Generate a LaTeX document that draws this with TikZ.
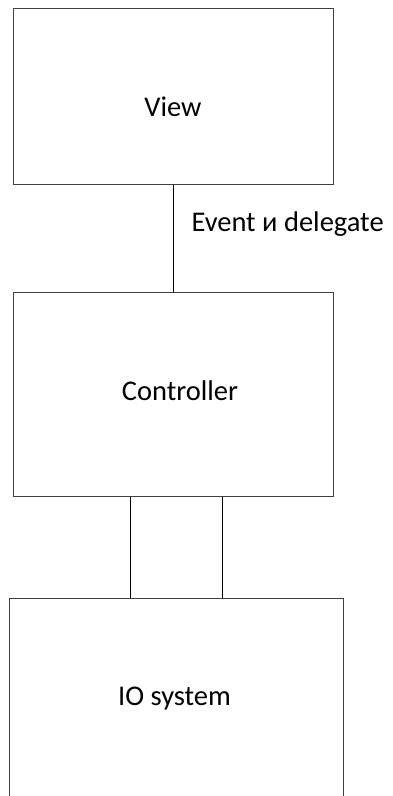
\documentclass[tikz,border=0pt]{standalone}
\usepackage{fontspec}
\setmainfont{Carlito}

\tikzset{every node/.style={font=\fontsize{28.5}{34}\selectfont}}
\tikzset{box/.style={rectangle, draw=black!75, line width=1pt, minimum width=320pt, inner sep=0pt}}
\tikzset{txt/.style={inner sep=0pt, text height=18.4pt, text depth=0pt}}

\begin{document}
\begin{tikzpicture}[x=1pt, y=-1pt]
		\useasboundingbox (0,0) rectangle (393,796);
		\clip (0,0) rectangle (393,796);
		
		\node[box, minimum height=176pt, label={[txt, yshift=-10.3pt]center:View}] (view) at (173,96.7) {};
		\node[box, minimum height=204pt, label={[txt, xshift=7pt, yshift=3.7pt]center:Controller}] (ctrl) at (173,394.7) {};
		\node[box, minimum width=334pt, minimum height=240pt, label={[txt, xshift=-1.5pt, yshift=22.3pt]center:IO system}] (io) at (176,718.3) {};
		
		\draw[line width=1pt] (view.south) -- (ctrl.north) node[txt, pos=0.345, right=18pt] (ev) {Event и delegate};
		
		\draw[line width=1pt] ([xshift=-43pt]ctrl.south) -- ([xshift=-43pt]ctrl.south |- io.north);
		\draw[line width=1pt] ([xshift=49.7pt]ctrl.south) -- ([xshift=49.7pt]ctrl.south |- io.north);
	\end{tikzpicture}
\end{document}
